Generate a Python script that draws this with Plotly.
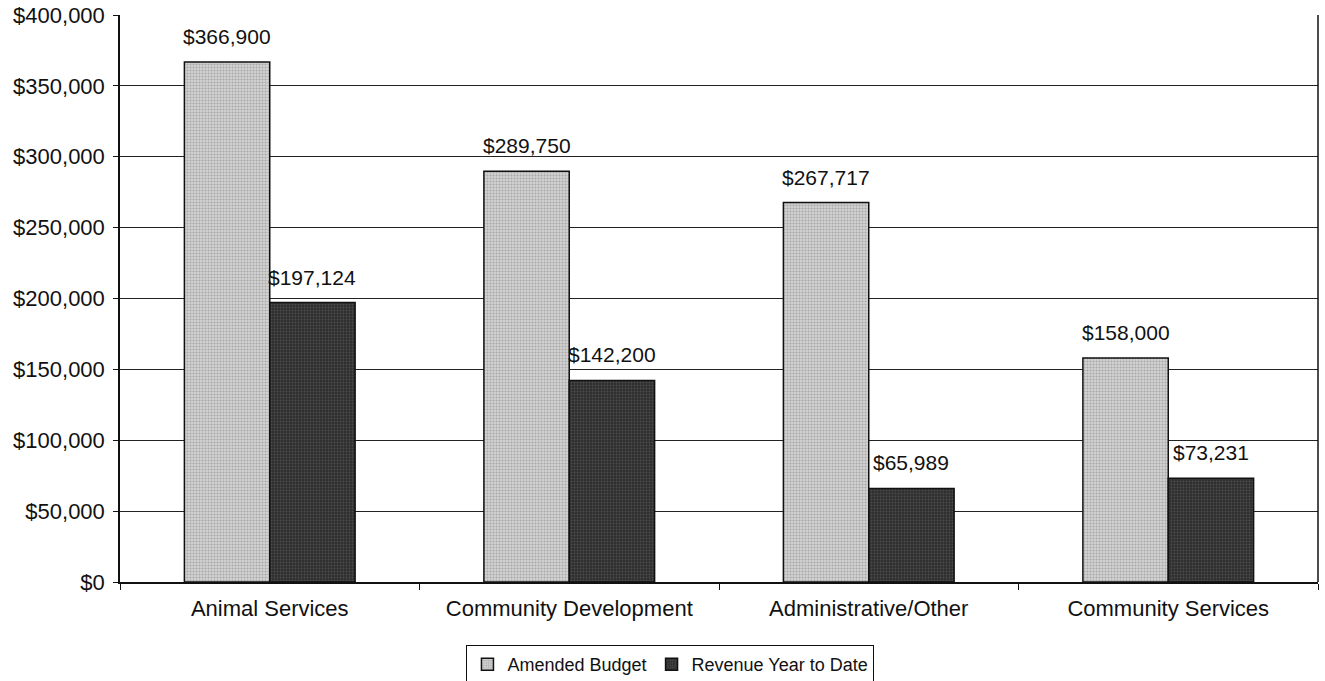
import plotly.graph_objects as go

categories = ["Animal Services", "Community Development", "Administrative/Other", "Community Services"]
amended_budget = [366900, 289750, 267717, 158000]
revenue_ytd = [197124, 142200, 65989, 73231]
y_ticks = [0, 50000, 100000, 150000, 200000, 250000, 300000, 350000, 400000]

font = "Liberation Sans, Arial, sans-serif"
BARGAP = 0.43
PLOT_W = 1325 - 120 - 7
half_bar_px = (PLOT_W / len(categories)) * (1 - BARGAP) / 4

fig = go.Figure()
fig.add_trace(go.Bar(
    x=categories, y=amended_budget, name="Amended Budget",
    marker=dict(color="#c8c8c8", line=dict(color="#111", width=1.5),
                pattern=dict(shape=".", fgcolor="#7a7a7a", bgcolor="#d4d4d4", size=3, solidity=0.4)),
))
fig.add_trace(go.Bar(
    x=categories, y=revenue_ytd, name="Revenue Year to Date",
    marker=dict(color="#3a3a3a", line=dict(color="#111", width=1.5),
                pattern=dict(shape=".", fgcolor="#6e6e6e", bgcolor="#2e2e2e", size=3, solidity=0.3)),
))

# value labels placed above each bar via the axis scales
for series, sign in ((amended_budget, -1), (revenue_ytd, 1)):
    for cat, val in zip(categories, series):
        fig.add_annotation(x=cat, y=val, xref="x", yref="y", text=f"${val:,}",
                           showarrow=False, xshift=sign * half_bar_px, yshift=12,
                           yanchor="bottom", font=dict(size=21, color="#111", family=font))

fig.update_layout(
    width=1325, height=681,
    margin=dict(l=120, r=7, t=15, b=99, autoexpand=False),
    paper_bgcolor="white", plot_bgcolor="white",
    barmode="group", bargap=BARGAP, bargroupgap=0,
    font=dict(family=font, size=21, color="#111"),
    showlegend=True,
    legend=dict(orientation="h", xref="container", yref="container",
                x=0.506, xanchor="center", y=(681 - 645) / 681, yanchor="top",
                bordercolor="#111", borderwidth=1, bgcolor="white",
                font=dict(size=18, family=font), itemwidth=30, traceorder="normal"),
)
fig.update_yaxes(
    range=[0, 400000], tickvals=y_ticks,
    ticktext=[f"${v:,}" for v in y_ticks],
    showgrid=True, gridcolor="#222", gridwidth=1,
    showline=True, linecolor="#111", linewidth=1.5,
    ticks="outside", ticklen=5, tickcolor="#111", ticklabelstandoff=4,
    tickfont=dict(size=22, family=font), zeroline=False, mirror=False,
    automargin=False,
)
fig.update_xaxes(
    showline=True, linecolor="#111", linewidth=1.5,
    ticks="outside", tickson="boundaries", ticklen=6, tickcolor="#111",
    ticklabelstandoff=6,
    tickfont=dict(size=22, family=font), showgrid=False, automargin=False,
)
# right border of the plot area
fig.add_shape(type="line", xref="paper", yref="paper", x0=1, x1=1, y0=0, y1=1,
              line=dict(color="#111", width=1.5))

fig.write_html("out.html")
